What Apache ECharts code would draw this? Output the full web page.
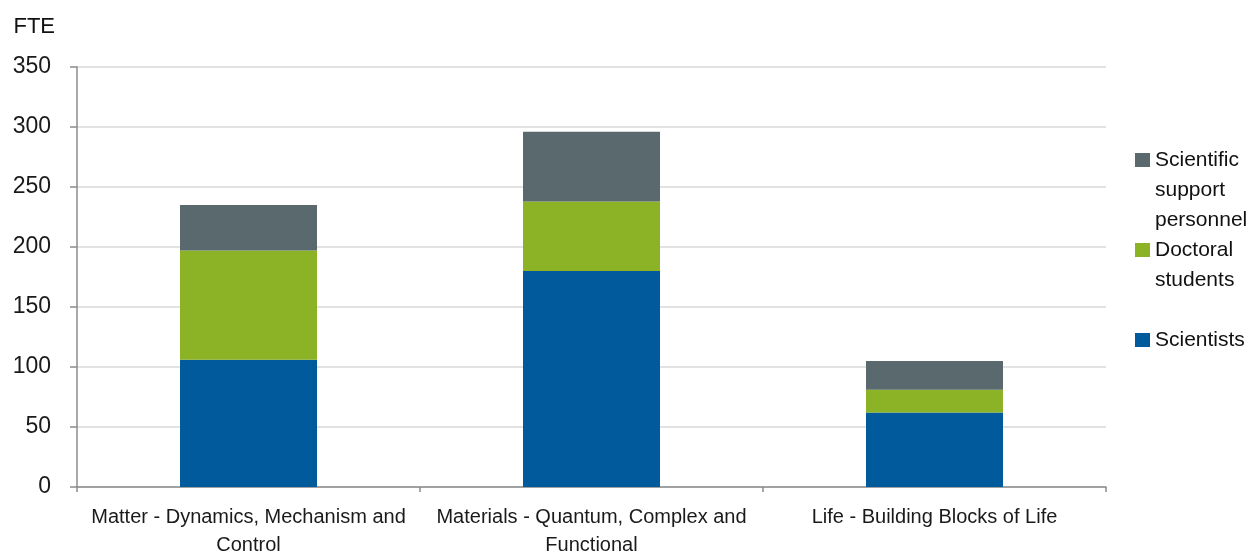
<!DOCTYPE html>
<html>
<head>
<meta charset="utf-8">
<script src="https://cdn.jsdelivr.net/npm/echarts@6/dist/echarts.min.js"></script>
<style>
  html, body { margin: 0; padding: 0; background: #ffffff; }
  #chart { width: 1258px; height: 556px; }
</style>
</head>
<body>
<div id="chart"></div>
<script>
// Research areas (x-axis categories)
const categories = [
  'Matter - Dynamics, Mechanism and\nControl',
  'Materials - Quantum, Complex and\nFunctional',
  'Life - Building Blocks of Life'
];

// Full-time equivalents per staff group
const scientists = [106, 180, 62];
const doctoralStudents = [91, 58, 19];
const supportPersonnel = [38, 58, 24];

const yTicks = { min: 0, max: 350, interval: 50 };

const FONT = '"Liberation Sans", Arial, sans-serif';
const COLORS = {
  scientists: '#005A9C',
  doctoral: '#8CB325',
  support: '#5A696D'
};
const LINE_H = 30;

const chart = echarts.init(document.getElementById('chart'), null, { renderer: 'canvas' });

// Legend swatch sits beside the first text line; the empty move/line
// points stretch the icon box to the full height of the wrapped label.
function swatchPath(height) {
  return 'path://M0 0 L0 0 M0 8 L15 8 L15 22 L0 22 Z M0 ' + height + ' L0 ' + height;
}

function legendBlock(name, label, lines, firstLineCenterY) {
  const h = lines * LINE_H;
  return {
    show: true,
    data: [{ name: name, icon: swatchPath(h) }],
    left: 1135,
    top: firstLineCenterY - LINE_H / 2,
    orient: 'vertical',
    padding: 0,
    itemWidth: 15,
    itemHeight: h,
    selectedMode: false,
    formatter: () => label,
    textStyle: {
      fontFamily: FONT,
      fontSize: 21,
      color: '#111111',
      lineHeight: LINE_H
    }
  };
}

const option = {
  animation: false,
  backgroundColor: '#ffffff',
  textStyle: { fontFamily: FONT },
  grid: {
    left: 77, right: 152, top: 67, bottom: 69,
    containLabel: false,
    outerBoundsMode: 'none'
  },
  legend: [
    legendBlock('Scientific support personnel', 'Scientific\nsupport\npersonnel', 3, 160),
    legendBlock('Doctoral students', 'Doctoral\nstudents', 2, 250),
    legendBlock('Scientists', 'Scientists', 1, 340)
  ],
  xAxis: {
    type: 'category',
    data: categories,
    axisLine: { show: true, lineStyle: { color: '#8C8C8C', width: 1.5 } },
    axisTick: { show: true, length: 5, lineStyle: { color: '#8C8C8C', width: 1.5 } },
    axisLabel: {
      fontFamily: FONT,
      fontSize: 20,
      color: '#1A1A1A',
      lineHeight: 28,
      margin: 16,
      interval: 0
    }
  },
  yAxis: {
    type: 'value',
    min: yTicks.min,
    max: yTicks.max,
    interval: yTicks.interval,
    name: 'FTE',
    nameLocation: 'end',
    nameGap: 29,
    nameTextStyle: {
      fontFamily: FONT,
      fontSize: 22,
      color: '#111111',
      align: 'right',
      padding: [0, 22, 0, 0]
    },
    axisLine: { show: true, lineStyle: { color: '#8C8C8C', width: 1.5 } },
    axisTick: { show: true, length: 7, lineStyle: { color: '#8C8C8C', width: 1.5 } },
    splitLine: { show: true, lineStyle: { color: '#D9D9D9', width: 1.5 } },
    axisLabel: {
      fontFamily: FONT,
      fontSize: 23,
      color: '#1A1A1A',
      margin: 26
    }
  },
  series: [
    {
      name: 'Scientists',
      type: 'bar',
      stack: 'fte',
      data: scientists,
      barWidth: 137,
      itemStyle: { color: COLORS.scientists }
    },
    {
      name: 'Doctoral students',
      type: 'bar',
      stack: 'fte',
      data: doctoralStudents,
      barWidth: 137,
      itemStyle: { color: COLORS.doctoral }
    },
    {
      name: 'Scientific support personnel',
      type: 'bar',
      stack: 'fte',
      data: supportPersonnel,
      barWidth: 137,
      itemStyle: { color: COLORS.support }
    }
  ]
};

chart.setOption(option);
</script>
</body>
</html>
